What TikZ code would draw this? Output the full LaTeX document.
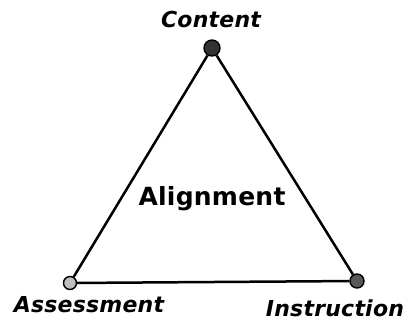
\documentclass[tikz,border=0pt]{standalone}
\usepackage{fontspec}
\setmainfont{DejaVu Sans}[ItalicFont={DejaVu Sans Oblique},BoldFont={DejaVu Sans Bold},BoldItalicFont={DejaVu Sans Bold Oblique}]
\usepackage{tikz}

\begin{document}
\begin{tikzpicture}
  [x=1pt,y=-1pt,line width=2.5pt,
   dot/.style={circle,draw=black,line width=1.4pt,inner sep=0pt,minimum size=#1},
   lbl/.style={anchor=base,font=\fontsize{22}{24}\selectfont\bfseries\itshape\addfontfeatures{LetterSpace=1}}]
  \useasboundingbox (0,0) rectangle (409,321);
  \node[dot=16pt,fill=black!80] (n1) at (212,48) {};
  \node[dot=13pt,fill=black!25] (n2) at (70,283) {};
  \node[dot=14pt,fill=black!65] (n3) at (357,281) {};
  \foreach \from/\to in {n1/n2,n2/n3,n3/n1}
    \draw (\from) -- (\to);
  \node[lbl] (t1) at (211,28) {Content};
  \node[lbl] (t2) at (89,312) {Assessment};
  \node[lbl] (t3) at (335,316) {Instruction};
  \node[anchor=base,font=\fontsize{25}{27}\selectfont\bfseries\addfontfeatures{LetterSpace=1}] (t4) at (212,205) {Alignment};
\end{tikzpicture}
\end{document}
